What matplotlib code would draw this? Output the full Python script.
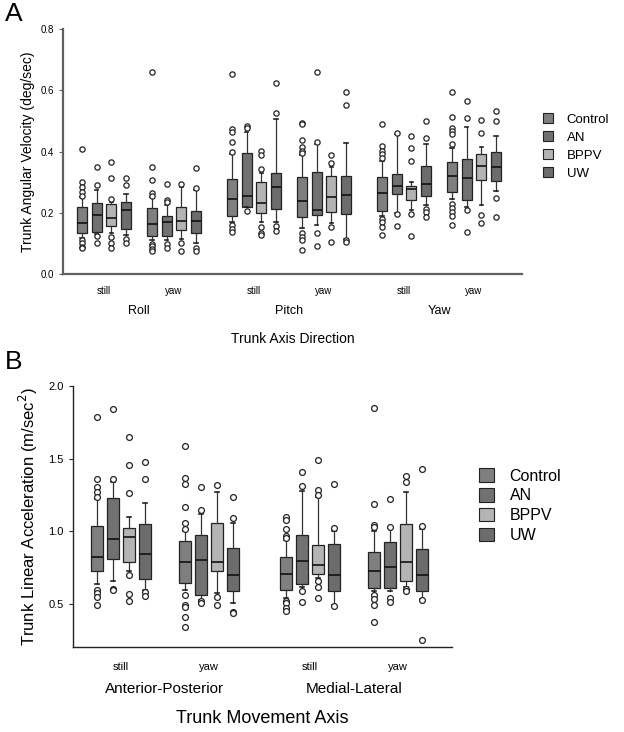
import matplotlib
matplotlib.use("Agg")
import matplotlib.pyplot as plt
from matplotlib.patches import Patch

plt.rcParams['font.family'] = ['Liberation Sans', 'DejaVu Sans']

groups = ["Control", "AN", "BPPV", "UW"]
group_colors = ["#7f7f7f", "#717171", "#b4b4b4", "#6c6c6c"]
conditions = ["still", "yaw"]

# ---------------- Panel A data ----------------
A_directions = ["Roll", "Pitch", "Yaw"]
# order: direction -> condition -> group
A_q1 = [0.133, 0.138, 0.158, 0.147,  0.125, 0.124, 0.144, 0.133,
        0.191, 0.220, 0.198, 0.212,  0.185, 0.193, 0.201, 0.195,
        0.206, 0.261, 0.242, 0.255,  0.269, 0.242, 0.307, 0.304]
A_med = [0.168, 0.193, 0.182, 0.209,  0.163, 0.171, 0.173, 0.173,
         0.244, 0.255, 0.233, 0.285,  0.240, 0.209, 0.253, 0.258,
         0.264, 0.288, 0.277, 0.294,  0.320, 0.315, 0.354, 0.349]
A_q3 = [0.218, 0.231, 0.228, 0.234,  0.215, 0.189, 0.220, 0.206,
        0.310, 0.395, 0.302, 0.329,  0.318, 0.334, 0.320, 0.320,
        0.316, 0.326, 0.288, 0.354,  0.365, 0.375, 0.392, 0.398]
A_wlo = [0.118, 0.130, 0.135, 0.127,  0.110, 0.110, 0.113, 0.102,
         0.170, 0.220, 0.170, 0.170,  0.150, 0.160, 0.165, 0.114,
         0.190, 0.200, 0.210, 0.225,  0.245, 0.220, 0.225, 0.271]
A_whi = [0.250, 0.274, 0.235, 0.261,  0.250, 0.225, 0.285, 0.274,
         0.392, 0.463, 0.330, 0.505,  0.390, 0.425, 0.350, 0.429,
         0.370, 0.456, 0.300, 0.424,  0.410, 0.481, 0.416, 0.449]
A_fliers = [
    [0.408, 0.302, 0.285, 0.269, 0.256, 0.111, 0.100, 0.089, 0.084],
    [0.349, 0.289, 0.124, 0.100],
    [0.365, 0.315, 0.244, 0.122, 0.102, 0.084],
    [0.313, 0.289, 0.114, 0.100],
    [0.661, 0.349, 0.307, 0.266, 0.255, 0.097, 0.090, 0.083, 0.076],
    [0.294, 0.242, 0.236, 0.097, 0.086],
    [0.294, 0.100, 0.076],
    [0.347, 0.282, 0.084, 0.076],
    [0.652, 0.474, 0.463, 0.432, 0.398, 0.160, 0.147, 0.138],
    [0.484, 0.476, 0.206],
    [0.402, 0.387, 0.343, 0.155, 0.133, 0.127],
    [0.623, 0.525, 0.157, 0.140],
    [0.494, 0.489, 0.436, 0.414, 0.403, 0.396, 0.133, 0.122, 0.111, 0.078],
    [0.658, 0.432, 0.135, 0.091],
    [0.389, 0.364, 0.155, 0.106],
    [0.594, 0.552, 0.111, 0.106],
    [0.490, 0.418, 0.402, 0.391, 0.378, 0.180, 0.169, 0.152, 0.127],
    [0.462, 0.195, 0.157],
    [0.449, 0.413, 0.370, 0.196, 0.124],
    [0.498, 0.445, 0.212, 0.201, 0.187],
    [0.594, 0.514, 0.478, 0.468, 0.457, 0.425, 0.228, 0.215, 0.201, 0.190, 0.160],
    [0.566, 0.511, 0.209, 0.138],
    [0.503, 0.460, 0.193, 0.166],
    [0.533, 0.498, 0.249, 0.187],
]
A_yticks = [0.0, 0.2, 0.4, 0.6, 0.8]

# ---------------- Panel B data ----------------
B_axes = ["Anterior-Posterior", "Medial-Lateral"]
B_q1 = [0.730, 0.814, 0.789, 0.670,  0.643, 0.560, 0.727, 0.590,
        0.601, 0.638, 0.705, 0.590,  0.613, 0.613, 0.661, 0.590]
B_med = [0.826, 0.947, 0.963, 0.844,  0.791, 0.807, 0.791, 0.700,
         0.711, 0.800, 0.773, 0.704,  0.727, 0.753, 0.787, 0.700]
B_q3 = [1.041, 1.231, 1.025, 1.050,  0.936, 0.975, 1.055, 0.888,
        0.826, 0.975, 0.910, 0.917,  0.858, 0.929, 1.048, 0.883]
B_wlo = [0.640, 0.659, 0.730, 0.600,  0.600, 0.530, 0.580, 0.510,
         0.540, 0.620, 0.680, 0.494,  0.590, 0.590, 0.620, 0.533]
B_whi = [1.220, 1.341, 1.100, 1.199,  1.000, 1.123, 1.268, 1.060,
         0.940, 1.280, 1.238, 1.002,  1.000, 1.025, 1.272, 1.020]
B_fliers = [
    [1.787, 1.359, 1.306, 1.272, 1.238, 0.601, 0.574, 0.551, 0.498],
    [1.840, 1.359, 0.608, 0.597],
    [1.650, 1.460, 1.265, 0.704, 0.567, 0.521],
    [1.478, 1.364, 0.581, 0.556],
    [1.586, 1.371, 1.329, 1.165, 1.055, 1.020, 0.562, 0.495, 0.478, 0.414, 0.345],
    [1.307, 1.151, 0.520, 0.505],
    [1.318, 0.551, 0.498],
    [1.238, 1.094, 0.448, 0.437],
    [1.100, 1.082, 1.020, 0.970, 0.956, 0.521, 0.505, 0.475, 0.455],
    [1.410, 1.311, 0.590, 0.512],
    [1.490, 1.288, 1.254, 0.661, 0.615, 0.544],
    [1.325, 1.025, 0.489],
    [1.849, 1.192, 1.043, 1.032, 0.563, 0.533, 0.498, 0.379],
    [1.226, 1.032, 0.546, 0.517],
    [1.382, 1.341, 0.604, 0.592],
    [1.432, 1.036, 0.528, 0.253],
]
B_yticks = [0.5, 1.0, 1.5, 2.0]

W, H = 624, 732
fig = plt.figure(figsize=(W / 100, H / 100), dpi=100)


def px_axes(l, r, t, b):
    return fig.add_axes([l / W, 1 - b / H, (r - l) / W, (b - t) / H])


def draw_panel(ax, q1, med, q3, wlo, whi, fliers, top_labels, first, dir_step,
               cond_step, box_step, box_w, ms, spine_col, spine_lw):
    stats, pos, cols = [], [], []
    k = 0
    for d in range(len(top_labels)):
        for c in range(len(conditions)):
            center = first + dir_step * d + cond_step * c
            for g in range(len(groups)):
                stats.append(dict(q1=q1[k], med=med[k], q3=q3[k], whislo=wlo[k],
                                  whishi=whi[k], fliers=fliers[k]))
                pos.append(center + (g - 1.5) * box_step)
                cols.append(group_colors[g])
                k += 1
    bp = ax.bxp(stats, positions=pos, widths=box_w, patch_artist=True,
                showfliers=True, capwidths=box_w * 0.35,
                boxprops=dict(edgecolor="#222222", linewidth=0.9),
                medianprops=dict(color="#111111", linewidth=1.2),
                whiskerprops=dict(color="#333333", linewidth=0.9),
                capprops=dict(color="#222222", linewidth=1.2),
                flierprops=dict(marker="o", markerfacecolor="white",
                                markeredgecolor="#222222", markersize=ms,
                                markeredgewidth=0.9))
    for patch, col in zip(bp["boxes"], cols):
        patch.set_facecolor(col)
    for side in ("top", "right"):
        ax.spines[side].set_visible(False)
    for side in ("left", "bottom"):
        ax.spines[side].set_color(spine_col)
        ax.spines[side].set_linewidth(spine_lw)
    ax.set_xticks([])
    ax.tick_params(axis="y", length=3, width=0.8, color=spine_col)
    return ax


# ---------------- Panel A ----------------
axA = px_axes(63, 522, 29, 274)
axA.set_xlim(0, 459)
axA.set_ylim(0, 0.8)
draw_panel(axA, A_q1, A_med, A_q3, A_wlo, A_whi, A_fliers, A_directions,
           first=41, dir_step=150, cond_step=70, box_step=14.7, box_w=10,
           ms=3.8, spine_col="#606060", spine_lw=1.6)
axA.set_yticks(A_yticks)
axA.set_yticklabels([f"{v:.1f}" for v in A_yticks], fontsize=7)
axA.set_ylabel("Trunk Angular Velocity (deg/sec)", fontsize=10, labelpad=4)
for d, name in enumerate(A_directions):
    for c, cond in enumerate(conditions):
        x = 41 + 150 * d + 70 * c
        axA.annotate(cond, (x, 0), xycoords=("data", "axes fraction"),
                     xytext=(0, -12.2), textcoords="offset points",
                     ha="center", va="center", fontsize=7)
    axA.annotate(name, (41 + 150 * d + 35, 0), xycoords=("data", "axes fraction"),
                 xytext=(0, -26.5), textcoords="offset points",
                 ha="center", va="center", fontsize=9)
axA.annotate("Trunk Axis Direction", (0.5, 0), xycoords="axes fraction",
             xytext=(0, -46.5), textcoords="offset points",
             ha="center", va="center", fontsize=10)
fig.text(5 / W, 1 - 14 / H, "A", fontsize=19, ha="left", va="center")
legA = fig.legend([Patch(facecolor=c, edgecolor="#222222", linewidth=0.8) for c in group_colors],
                  groups, loc="upper left", bbox_to_anchor=(531 / W, 1 - 101 / H),
                  frameon=False, fontsize=9.5, handlelength=0.8, handleheight=0.8,
                  handletextpad=1.0, labelspacing=0.42)

# ---------------- Panel B ----------------
axB = px_axes(72.7, 451.7, 386, 646.7)
axB.set_xlim(0, 379)
axB.set_ylim(0.208, 2.0)
draw_panel(axB, B_q1, B_med, B_q3, B_wlo, B_whi, B_fliers, B_axes,
           first=48, dir_step=189, cond_step=88, box_step=16, box_w=12,
           ms=4.2, spine_col="#222222", spine_lw=1.0)
axB.set_yticks(B_yticks)
axB.set_yticklabels([f"{v:.1f}" for v in B_yticks], fontsize=8)
axB.set_ylabel("Trunk Linear Acceleration (m/sec$^2$)", fontsize=12, labelpad=6)
for d, name in enumerate(B_axes):
    for c, cond in enumerate(conditions):
        x = 48 + 189 * d + 88 * c
        axB.annotate(cond, (x, 0), xycoords=("data", "axes fraction"),
                     xytext=(0, -14.5), textcoords="offset points",
                     ha="center", va="center", fontsize=8)
    axB.annotate(name, (48 + 189 * d + 44, 0), xycoords=("data", "axes fraction"),
                 xytext=(0, -30.5), textcoords="offset points",
                 ha="center", va="center", fontsize=11)
axB.annotate("Trunk Movement Axis", (0.5, 0), xycoords="axes fraction",
             xytext=(0, -51.5), textcoords="offset points",
             ha="center", va="center", fontsize=13)
fig.text(5 / W, 1 - 362 / H, "B", fontsize=19, ha="left", va="center")
legB = fig.legend([Patch(facecolor=c, edgecolor="#222222", linewidth=0.8) for c in group_colors],
                  groups, loc="upper left", bbox_to_anchor=(465 / W, 1 - 454 / H),
                  frameon=False, fontsize=11.5, handlelength=0.9, handleheight=0.9,
                  handletextpad=1.0, labelspacing=0.3)

fig.savefig("out.png", dpi=100)
